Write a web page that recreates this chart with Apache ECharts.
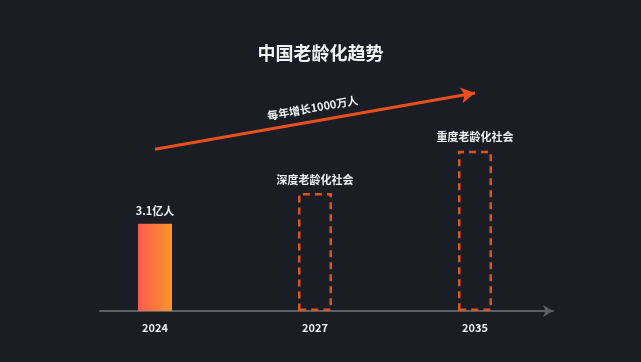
<!DOCTYPE html>
<html>
<head>
<meta charset="utf-8">
<script src="https://cdn.jsdelivr.net/npm/echarts@6/dist/echarts.min.js"></script>
<style>
html,body{margin:0;padding:0;background:#1a1d24;}
#main{width:641px;height:362px;}
</style>
</head>
<body>
<div id="main"></div>
<script>
// 数据
var years = ['2024', '2027', '2035'];
var values = [3.1, 4.2, 5.7];
var barLabels = ['3.1亿人', '深度老龄化社会', '重度老龄化社会'];
var trendText = '每年增长1000万人';
var trendFrom = ['2024', 5.75];
var trendTo = ['2035', 7.75];

var myChart = echarts.init(document.getElementById('main'));
var font = 'Noto Sans CJK SC';

var barData = [];
for (var i = 0; i < years.length; i++) {
  var item = {
    value: values[i],
    label: { formatter: barLabels[i] }
  };
  if (i == 0) {
    item.itemStyle = {
      color: new echarts.graphic.LinearGradient(0, 0, 1, 0, [
        { offset: 0, color: '#ff5a4e' },
        { offset: 1, color: '#f7962a' }
      ])
    };
  } else {
    // 预测值用虚线框
    item.itemStyle = {
      color: 'rgba(0,0,0,0)',
      borderColor: '#e0521e',
      borderWidth: 2.5,
      borderType: [7, 5]
    };
  }
  barData.push(item);
}

var option = {
  backgroundColor: '#1a1d24',
  title: {
    text: '中国老龄化趋势',
    left: 'center',
    top: 39,
    textStyle: { color: '#f2f2f2', fontSize: 18, fontWeight: 'bold', fontFamily: font }
  },
  grid: [
    { left: 75, right: 86, top: 86, bottom: 51 },
    { left: 100, right: 88, top: 86, bottom: 51 }
  ],
  xAxis: [
    {
      type: 'category',
      gridIndex: 0,
      data: years,
      axisLine: { show: false },
      axisTick: { show: false },
      axisLabel: { color: '#f0f0f0', fontSize: 11, fontWeight: 'bold', fontFamily: font, margin: 11 }
    },
    {
      // 底部带箭头的轴线
      type: 'value',
      gridIndex: 1,
      min: 0,
      max: 1,
      axisLine: {
        show: true,
        symbol: ['none', 'arrow'],
        symbolSize: [9, 10],
        lineStyle: { color: '#5b5f67', width: 2 }
      },
      axisTick: { show: false },
      axisLabel: { show: false },
      splitLine: { show: false }
    }
  ],
  yAxis: [
    { type: 'value', gridIndex: 0, min: 0, max: 8, show: false },
    { type: 'value', gridIndex: 1, min: 0, max: 1, show: false }
  ],
  series: [
    {
      type: 'bar',
      xAxisIndex: 0,
      yAxisIndex: 0,
      barWidth: 34,
      data: barData,
      label: {
        show: true,
        position: 'top',
        distance: 8,
        color: '#f0f0f0',
        fontSize: 11,
        fontWeight: 'bold',
        fontFamily: font
      },
      markLine: {
        silent: true,
        symbol: ['none', 'arrow'],
        symbolSize: [12, 14],
        lineStyle: { color: '#e8501e', width: 3, type: 'solid' },
        label: {
          show: true,
          position: 'insideMiddleTop',
          distance: 8,
          formatter: trendText,
          color: '#f0f0f0',
          fontSize: 11,
          fontWeight: 'bold',
          fontFamily: font
        },
        data: [[{ coord: trendFrom }, { coord: trendTo }]]
      }
    }
  ]
};
myChart.setOption(option);
</script>
</body>
</html>
